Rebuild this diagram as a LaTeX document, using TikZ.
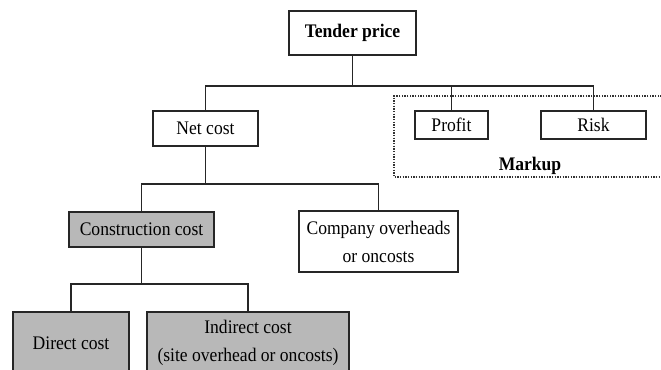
\documentclass[tikz,border=0pt]{standalone}
\usepackage{fontspec}
\setmainfont{Liberation Serif}[FakeStretch=0.915]
\definecolor{boxgray}{RGB}{184,184,184}
\begin{document}
\begin{tikzpicture}[x=0.75pt,y=-0.75pt,
  box/.style={draw=black!85, line width=1pt, inner sep=0pt, align=center,
    font=\fontsize{14.4pt}{21pt}\selectfont},
  graybox/.style={box, fill=boxgray},
  conn/.style={draw=black!85, line width=1pt},
  markbox/.style={draw=black!80, line width=1pt, densely dotted}]
\clip (0,0) rectangle (661,369);
\useasboundingbox (0,0) rectangle (661,369);
% nodes
\node[box, minimum width=95.25pt, minimum height=33pt, font=\fontsize{14.4pt}{16pt}\selectfont\bfseries] (tp) at (352.5,33) {Tender price};
\node[box, minimum width=78.75pt, minimum height=26.25pt] (net) at (205.5,128.5) {Net cost};
\node[box, minimum width=54.75pt, minimum height=21pt] (profit) at (451.5,125) {Profit};
\node[box, minimum width=78.75pt, minimum height=21pt] (risk) at (593.5,125) {Risk};
\node[font=\fontsize{14.4pt}{16pt}\selectfont\bfseries, inner sep=0pt] (markup) at (530,166) {Markup};
\node[graybox, minimum width=108.75pt, minimum height=26.25pt] (cc) at (141.5,229.5) {Construction cost};
\node[box, minimum width=119.25pt, minimum height=45.75pt] (co) at (378.5,241.5) {Company overheads\\or oncosts};
\node[graybox, minimum width=87pt, minimum height=46.5pt] (dc) at (71,343) {Direct cost};
\node[graybox, minimum width=151.5pt, minimum height=46.5pt] (ic) at (248,343) {Indirect cost\\(site overhead or oncosts)};
% markup dotted region
\draw[markbox] (675,96) -- (394,96) -- (394,177) -- (675,177);
% connectors
\coordinate (b1) at (353,86);
\coordinate (b2) at (205.5,184);
\coordinate (b3) at (141.5,284);
\draw[conn, line width=1.4pt] (tp.south) -- (tp.south |- b1);
\draw[conn] (net.north) |- (b1) -| (risk.north);
\draw[conn] (profit.north) -- (profit.north |- b1);
\draw[conn] (net.south) -- (b2);
\draw[conn] (cc.north) |- (b2) -| (co.north);
\draw[conn] (cc.south) -- (b3);
\draw[conn] (dc.north) |- (b3) -| (ic.north);
\end{tikzpicture}
\end{document}
